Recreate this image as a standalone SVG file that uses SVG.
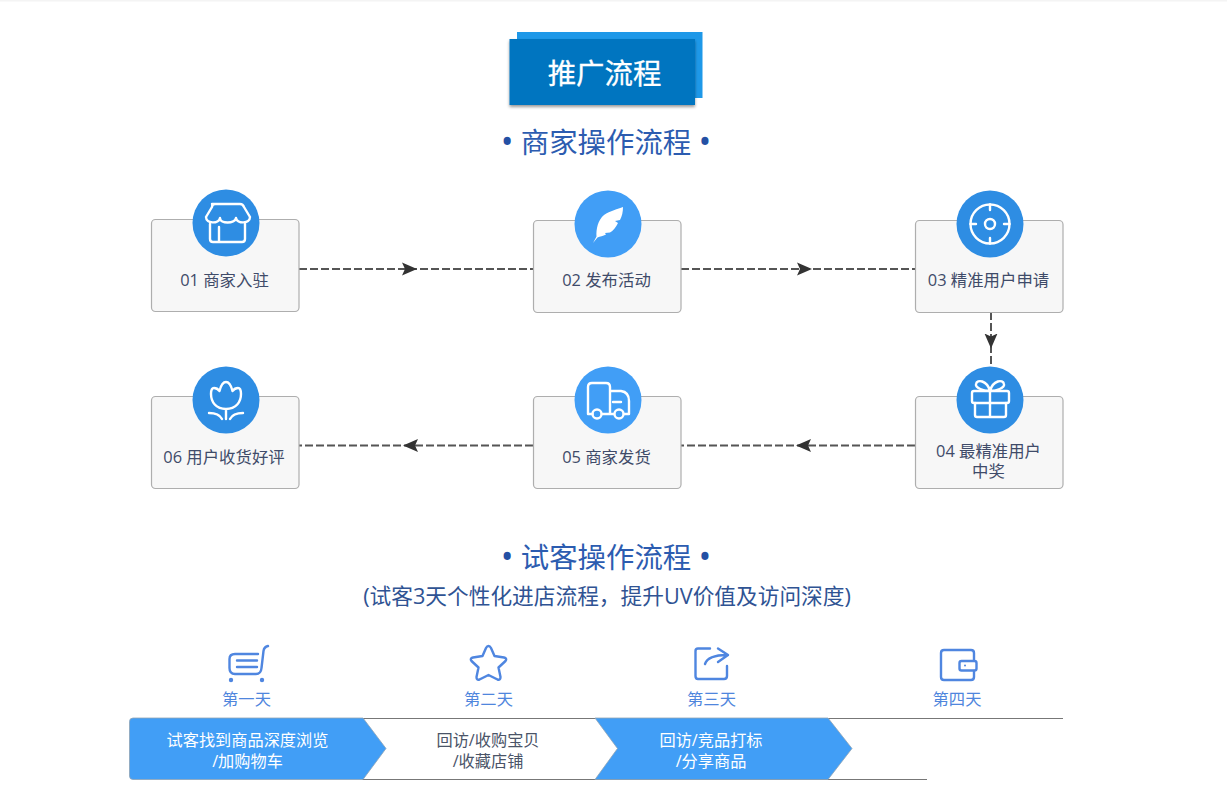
<svg xmlns="http://www.w3.org/2000/svg" width="1227" height="800" viewBox="0 0 1227 800">
  <style>
    text { font-family: "Open Sans", "Noto Sans CJK SC", sans-serif; text-anchor: middle; }
    .box { fill: #f7f7f7; stroke: #aeaeae; stroke-width: 1.2; }
    .disc { fill: #2e8de3; }
    .disc-light { fill: #419ef6; }
    .glyph { fill: none; stroke: #fff; stroke-width: 2.4; stroke-linecap: round; stroke-linejoin: round; }
    .label { font-size: 16.4px; fill: #3f4b69; }
    .heading { font-size: 28.4px; fill: #2c5cb0; }
    .dot { font-size: 34px; fill: #2450a4; }
    .note { font-size: 21.7px; fill: #2f5393; }
    .day { font-size: 16.3px; fill: #4f86dd; }
    .day-glyph { fill: none; stroke: #4f86e0; stroke-width: 2.4; stroke-linecap: round; stroke-linejoin: round; }
    .flow { fill: none; stroke: #555; stroke-width: 2; stroke-dasharray: 8 3; marker-mid: url(#head); }
    .band { fill: none; stroke: #777; stroke-width: 1.2; }
    .step { fill: #419ef6; stroke: #8fa3b5; stroke-width: 0.8; }
    .step-text { font-size: 16.2px; fill: #fff; }
    .step-dark { font-size: 16.2px; fill: #4a5468; }
  </style>
  <defs>
    <marker id="head" markerUnits="userSpaceOnUse" markerWidth="16" markerHeight="14" refX="15" refY="7" orient="auto">
      <path d="M0 0.5 L15 7 L0 13.5 L3 7 Z" fill="#333"/>
    </marker>
    <filter id="lift" x="-10%" y="-10%" width="120%" height="125%">
      <feDropShadow dx="0" dy="2" stdDeviation="1.5" flood-color="#000" flood-opacity="0.4"/>
    </filter>
  </defs>

  <rect width="1227" height="800" fill="#fff"/>
  <rect width="1227" height="1.5" fill="#f4f4f4"/>

  <g id="title">
    <rect x="517" y="32" width="185.5" height="66" fill="#1e98e8"/>
    <rect x="509.500" y="39" width="185.500" height="66" fill="#0375c0" filter="url(#lift)"/>
    <text x="604.500" y="84" font-size="28.400" fill="#fff" stroke="#fff" stroke-width="0.3">推广流程</text>
  </g>

  <text id="merchant-heading" class="heading" x="606" y="152.500" xml:space="preserve"><tspan class="dot" dy="1">•</tspan><tspan dy="-1"> 商家操作流程 </tspan><tspan class="dot" dy="1">•</tspan></text>

  <g id="connectors">
    <path class="flow" d="M299 269 L417 269 L533 269"/>
    <path class="flow" d="M681 269 L812 269 L915 269"/>
    <path class="flow" d="M991 312 L991 348.500 L991 367"/>
    <path class="flow" d="M915 445.500 L796 445.500 L681 445.500"/>
    <path class="flow" d="M533 445.500 L403 445.500 L299 445.500"/>
  </g>

  <g id="node-01">
    <rect class="box" x="151.500" y="219.500" width="147.500" height="92" rx="4"/>
    <circle class="disc" cx="226" cy="223" r="33.500"/>
    <path class="glyph" d="M212 204 H240 Q243 204 244 207 L250 217 C250 224 237 224 236 218 C235 224 220 224 220 218 C219 224 206 224 206 217 L212 207 Q212 204 215 204 Z"/>
    <path class="glyph" d="M210 224 V239 Q210 242 213 242 H242 Q245 242 245 239 V224 M219 227 V242"/>
    <text class="label" x="224.500" y="286">01 商家入驻</text>
  </g>

  <g id="node-02">
    <rect class="box" x="533.500" y="220.500" width="147.500" height="92" rx="4"/>
    <circle class="disc-light" cx="608" cy="224" r="33.500"/>
    <path d="M593 243 L596.500 236.500 C596 229 598 220 604 215 C610 211 618 209 623 207 C623 212 622 216 620 220 L615 221 L618 223 C616 227 613 231 610 232.500 L605 233 L606 234.500 C603 236 600 236.500 597.500 237.500 Z" fill="#fff"/>
    <text class="label" x="606.500" y="286">02 发布活动</text>
  </g>

  <g id="node-03">
    <rect class="box" x="915.500" y="220.500" width="147.500" height="92" rx="4"/>
    <circle class="disc" cx="990" cy="224" r="33.500"/>
    <circle class="glyph" cx="990" cy="224" r="19.500"/>
    <circle class="glyph" cx="990" cy="224" r="5"/>
    <path class="glyph" d="M990 204.500 V210 M990 238 V243.500 M970.500 224 H976 M1004 224 H1009.500"/>
    <text class="label" x="988.500" y="286">03 精准用户申请</text>
  </g>

  <g id="node-04">
    <rect class="box" x="915.500" y="396.500" width="147.500" height="92" rx="4"/>
    <circle class="disc" cx="990" cy="400" r="33.500"/>
    <rect class="glyph" x="972" y="391" width="37" height="12" rx="2"/>
    <path class="glyph" d="M975 403 V415 Q975 417 977 417 H1004 Q1006 417 1006 415 V403 M990 391 V417"/>
    <path class="glyph" d="M990 391 C984 391 975 388 976 384 C977 379 987 380 990 391 C993 380 1003 379 1004 384 C1005 388 996 391 990 391 Z"/>
    <text class="label" y="457"><tspan x="988.500">04 最精准用户</tspan><tspan x="988.500" dy="20">中奖</tspan></text>
  </g>

  <g id="node-05">
    <rect class="box" x="533.500" y="396.500" width="147.500" height="92" rx="4"/>
    <circle class="disc-light" cx="608" cy="400" r="33.500"/>
    <path class="glyph" d="M592.500 414 H588 V387 Q588 383 592 383 H606 Q610 383 610 387 V414 H602 M610 391 H621 Q629 392 629 401 V414 H624 M614 414 H610 M613 402 H621"/>
    <circle class="glyph" cx="597" cy="414" r="4.500"/>
    <circle class="glyph" cx="619" cy="414" r="4.500"/>
    <text class="label" x="606.500" y="463">05 商家发货</text>
  </g>

  <g id="node-06">
    <rect class="box" x="151.500" y="396.500" width="147.500" height="92" rx="4"/>
    <circle class="disc" cx="226" cy="400" r="33.500"/>
    <path class="glyph" d="M226 409 C216 409 211 402 211 394 C211 390 212 388 214 388 C216 388 218 389 219.500 391 C220.500 387 223 382 226 382 C229 382 231.500 387 232.500 391 C234 389 236 388 238 388 C240 388 241 390 241 394 C241 402 236 409 226 409 Z M226 409 V419"/>
    <path class="glyph" d="M209 413 C215 413 220 415 222 419 M243 413 C237 413 232 415 230 419"/>
    <text class="label" x="224" y="463">06 用户收货好评</text>
  </g>

  <text id="trial-heading" class="heading" x="606" y="567.500" xml:space="preserve"><tspan class="dot" dy="1">•</tspan><tspan dy="-1"> 试客操作流程 </tspan><tspan class="dot" dy="1">•</tspan></text>
  <text id="trial-note" class="note" x="607" y="604">(试客3天个性化进店流程，提升UV价值及访问深度)</text>

  <g id="day-1">
    <path class="day-glyph" d="M258 654 H235 Q229.500 654 229.500 659 V668 Q229.500 674 235 674 H256 Q261 674 261.500 668 L263.500 651 Q264 647 268 646 M237 660.500 H257 M237 667 H257"/>
    <circle cx="231" cy="680" r="2.200" fill="#4f86e0"/>
    <circle cx="262" cy="680" r="2.200" fill="#4f86e0"/>
    <text class="day" x="246.500" y="705">第一天</text>
  </g>
  <g id="day-2">
    <path class="day-glyph" d="M488.500 646 Q490 646 491 648 L494.500 656 L504 657.500 Q507.500 658.500 505.500 661 L498.500 667.500 L500.500 677 Q500.500 680.500 497.500 679.500 L488.500 675 L479.500 679.500 Q476.500 680.500 476.500 677 L478.500 667.500 L471.500 661 Q469.500 658.500 473 657.500 L482.500 656 L486 648 Q487 646 488.500 646 Z"/>
    <text class="day" x="488.500" y="705">第二天</text>
  </g>
  <g id="day-3">
    <path class="day-glyph" d="M710 648.500 H698 Q695.500 648.500 695.500 651 V676 Q695.500 679 698 679 H724 Q727 679 727 676 V666 M705 664 C707 658 714 655 727 655 M718 648.500 L728 655 L718 662"/>
    <text class="day" x="711.500" y="705">第三天</text>
  </g>
  <g id="day-4">
    <path class="day-glyph" d="M974 660 V653 Q974 650 971 650 H944 Q941 650 941 653 V677 Q941 680 944 680 H971 Q974 680 974 677 V671"/>
    <rect class="day-glyph" x="959.500" y="661" width="17" height="9.500" rx="2"/>
    <circle cx="965" cy="665.500" r="1" fill="#4f86e0"/>
    <text class="day" x="957" y="705">第四天</text>
  </g>

  <g id="timeline">
    <path class="band" d="M362 718.500 H1063 M362 779.500 H927"/>
    <path class="step" d="M133 718 H363 L386 748.500 L363 779.500 H133 Q129.500 779.500 129.500 776 V721.500 Q129.500 718 133 718 Z"/>
    <path class="step" d="M595 718 H828 L852 748.500 L828 779.500 H595 L617.500 748.500 Z"/>
    <text class="step-text" x="247.500" y="746">试客找到商品深度浏览</text>
    <text class="step-text" x="247.500" y="767">/加购物车</text>
    <text class="step-dark" x="488" y="746">回访/收购宝贝</text>
    <text class="step-dark" x="488" y="767">/收藏店铺</text>
    <text class="step-text" x="711" y="746">回访/竞品打标</text>
    <text class="step-text" x="711" y="767">/分享商品</text>
  </g>
</svg>
